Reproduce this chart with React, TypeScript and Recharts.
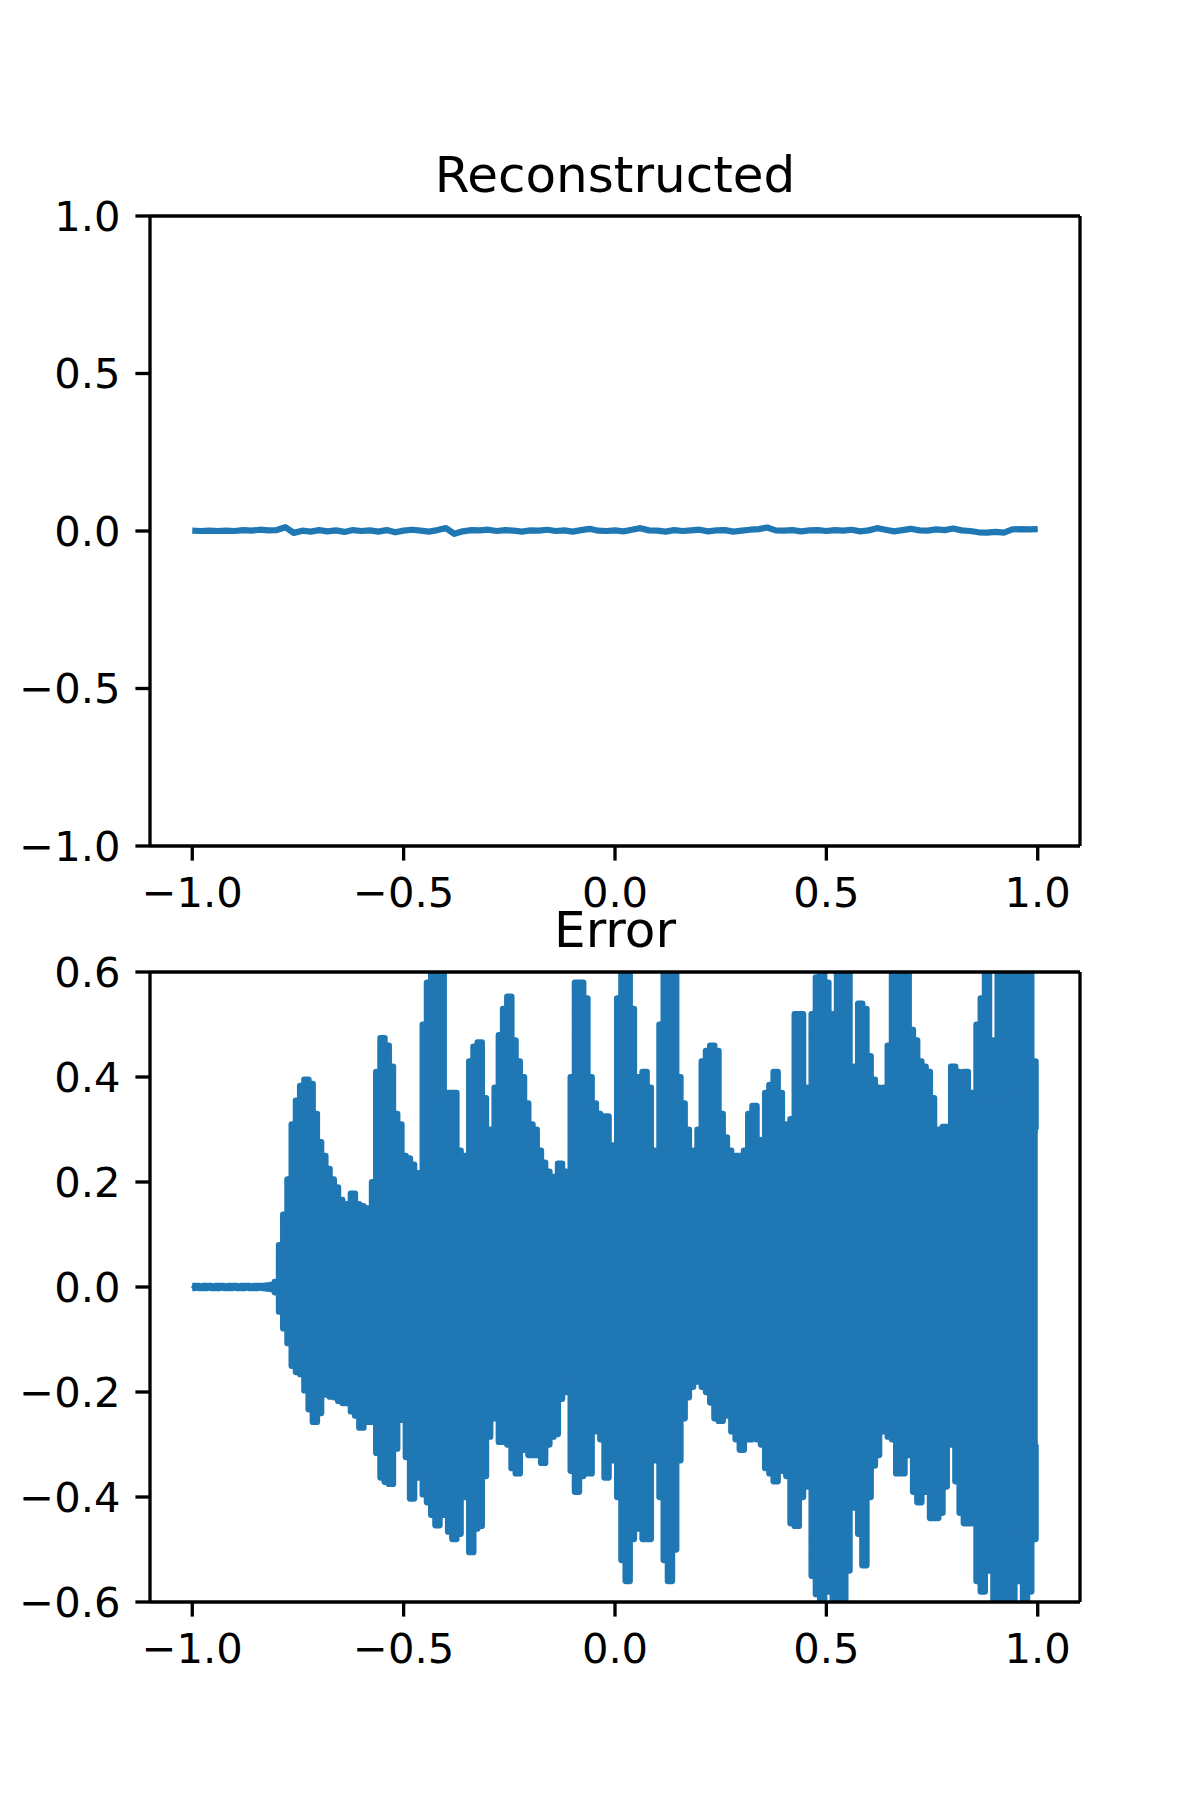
import { Area, ComposedChart, Line, ReferenceLine, XAxis, YAxis } from "recharts"

const BLUE = "#1f77b4"
const FONT = "DejaVu Sans"

const xTicks = [-1, -0.5, 0, 0.5, 1]
const reconTicks = [-1, -0.5, 0, 0.5, 1]
const errorTicks = [-0.6, -0.4, -0.2, 0, 0.2, 0.4, 0.6]
const titles = ["Reconstructed", "Error"]

// reconstructed signal, sampled every 0.02 from -1 to 1
const reconStart = -1
const reconStep = 0.02
const reconValues = [
  0.001, 0.0, 0.001, 0.0, 0.001, 0.0, 0.003, 0.001, 0.004, 0.002,
  0.003, 0.012, -0.006, 0.001, -0.002, 0.003, -0.001, 0.002, -0.003, 0.003,
  0.0, 0.002, -0.002, 0.003, -0.004, 0.001, 0.004, 0.001, -0.002, 0.003,
  0.009, -0.009, -0.001, 0.003, 0.002, 0.004, 0.0, 0.003, 0.001, -0.002,
  0.002, 0.001, 0.004, 0.0, 0.002, -0.002, 0.003, 0.007, 0.001, 0.0,
  0.002, -0.001, 0.004, 0.009, 0.002, 0.001, -0.002, 0.003, 0.0, 0.002,
  0.004, -0.001, 0.002, 0.003, -0.002, 0.001, 0.004, 0.006, 0.011, 0.002,
  0.001, 0.003, -0.001, 0.002, 0.003, 0.0, 0.003, 0.001, 0.004, -0.001,
  0.002, 0.009, 0.004, -0.001, 0.003, 0.007, 0.002, 0.001, 0.005, 0.003,
  0.008, 0.002, 0.0, -0.004, -0.005, -0.003, -0.005, 0.005, 0.006, 0.005,
  0.006,
]

// error signal envelope (upper / lower peaks), sampled every 0.01 from -1 to 1
const errStart = -1
const errStep = 0.01
const errUpper = [
  0.002, 0.002, 0.001, 0.002, 0.002, 0.001, 0.002, 0.002, 0.001, 0.002,
  0.002, 0.001, 0.002, 0.002, 0.001, 0.002, 0.002, 0.002, 0.003, 0.004,
  0.01, 0.08, 0.138, 0.205, 0.31, 0.355, 0.383, 0.395, 0.387, 0.33,
  0.276, 0.25, 0.225, 0.205, 0.19, 0.166, 0.15, 0.158, 0.178, 0.158,
  0.154, 0.15, 0.15, 0.2, 0.41, 0.474, 0.46, 0.42, 0.33, 0.31,
  0.25, 0.245, 0.233, 0.217, 0.18, 0.5, 0.58, 0.63, 0.65, 0.6,
  0.36, 0.37, 0.37, 0.26, 0.237, 0.25, 0.43, 0.458, 0.466, 0.36,
  0.3, 0.18, 0.38, 0.48, 0.53, 0.553, 0.47, 0.43, 0.4, 0.35,
  0.31, 0.3, 0.26, 0.237, 0.22, 0.21, 0.21, 0.235, 0.22, 0.2,
  0.4, 0.58, 0.58, 0.55, 0.4, 0.35, 0.33, 0.32, 0.325, 0.27,
  0.26, 0.55, 0.63, 0.63, 0.53, 0.38, 0.4, 0.41, 0.38, 0.26,
  0.23, 0.5, 0.6, 0.63, 0.63, 0.4, 0.35, 0.3, 0.245, 0.26,
  0.3, 0.43, 0.45, 0.46, 0.45, 0.33, 0.285, 0.26, 0.248, 0.25,
  0.25, 0.26, 0.33, 0.345, 0.28, 0.26, 0.37, 0.385, 0.41, 0.37,
  0.31, 0.3, 0.32, 0.52, 0.52, 0.38, 0.31, 0.52, 0.59, 0.63,
  0.58, 0.45, 0.52, 0.62, 0.63, 0.6, 0.35, 0.42, 0.54, 0.53,
  0.44, 0.395, 0.38, 0.31, 0.38, 0.46, 0.62, 0.63, 0.63, 0.6,
  0.49, 0.47, 0.43, 0.42, 0.41, 0.36, 0.285, 0.3, 0.305, 0.28,
  0.42, 0.41, 0.39, 0.41, 0.37, 0.36, 0.5, 0.55, 0.63, 0.47,
  0.36, 0.63, 0.63, 0.63, 0.63, 0.62, 0.38, 0.63, 0.62, 0.43,
  0.3,
]
const errLower = [
  -0.002, -0.001, -0.002, -0.002, -0.001, -0.002, -0.002, -0.001, -0.002, -0.002,
  -0.001, -0.002, -0.002, -0.001, -0.002, -0.002, -0.001, -0.002, -0.003, -0.004,
  -0.01, -0.047, -0.079, -0.107, -0.15, -0.162, -0.166, -0.197, -0.233, -0.257,
  -0.24, -0.205, -0.205, -0.209, -0.21, -0.217, -0.221, -0.205, -0.237, -0.245,
  -0.268, -0.253, -0.257, -0.245, -0.316, -0.363, -0.371, -0.375, -0.308, -0.253,
  -0.245, -0.324, -0.403, -0.33, -0.363, -0.395, -0.41, -0.434, -0.454, -0.434,
  -0.363, -0.466, -0.48, -0.47, -0.3, -0.4, -0.505, -0.46, -0.455, -0.36,
  -0.285, -0.2, -0.25, -0.295, -0.285, -0.3, -0.345, -0.355, -0.305, -0.31,
  -0.32, -0.32, -0.32, -0.335, -0.3, -0.285, -0.28, -0.213, -0.19, -0.2,
  -0.35, -0.39, -0.36, -0.35, -0.355, -0.275, -0.275, -0.29, -0.363, -0.33,
  -0.26, -0.4, -0.52, -0.56, -0.48, -0.36, -0.46, -0.48, -0.48, -0.33,
  -0.25, -0.4, -0.52, -0.56, -0.5, -0.33, -0.25, -0.21, -0.19, -0.175,
  -0.18, -0.19, -0.2, -0.22, -0.25, -0.255, -0.245, -0.23, -0.275, -0.29,
  -0.31, -0.27, -0.29, -0.285, -0.29, -0.3, -0.345, -0.355, -0.37, -0.35,
  -0.3, -0.36, -0.45, -0.455, -0.4, -0.31, -0.38, -0.55, -0.585, -0.62,
  -0.58, -0.5, -0.6, -0.63, -0.6, -0.54, -0.42, -0.37, -0.47, -0.53,
  -0.4, -0.34, -0.32, -0.27, -0.275, -0.285, -0.29, -0.355, -0.355, -0.315,
  -0.32, -0.39, -0.41, -0.37, -0.39, -0.44, -0.44, -0.43, -0.38, -0.27,
  -0.3, -0.37, -0.43, -0.45, -0.45, -0.4, -0.56, -0.58, -0.54, -0.5,
  -0.6, -0.63, -0.63, -0.62, -0.6, -0.56, -0.47, -0.63, -0.58, -0.48,
  -0.3,
]

const reconData = reconValues.map((y, i) => ({
  x: +(reconStart + i * reconStep).toFixed(2),
  y,
}))
const errorData = errUpper.map((hi, i) => ({
  x: +(errStart + i * errStep).toFixed(2),
  hi,
  lo: errLower[i],
}))

const X_DOMAIN = [-1.1, 1.1]

const fmt = (v: number) =>
  v < 0 ? "\u2212" + Math.abs(v).toFixed(1) : v.toFixed(1)

const SPINE = 3.33
const tickStyle = { fill: "#000", fontSize: 41.67, fontFamily: FONT }
const spine = { stroke: "#000", strokeWidth: SPINE }

// bottom/left axes with ticks, top/right spines as reference lines on the domain edges
function frame(yDomain: number[], yTicks: number[]) {
  return [
    <XAxis
      key="x"
      type="number"
      dataKey="x"
      domain={X_DOMAIN}
      ticks={xTicks}
      interval={0}
      allowDataOverflow
      tickFormatter={fmt}
      tick={tickStyle}
      tickSize={14.6}
      tickMargin={17}
      tickLine={spine}
      axisLine={spine}
      height={60}
    />,
    <YAxis
      key="y"
      type="number"
      domain={yDomain}
      ticks={yTicks}
      interval={0}
      allowDataOverflow
      tickFormatter={fmt}
      tick={tickStyle}
      tickSize={14.6}
      tickMargin={15}
      tickLine={spine}
      axisLine={spine}
      width={140}
    />,
  ]
}

function spines(yDomain: number[]) {
  return [
    <ReferenceLine key="top" y={yDomain[1]} stroke="#000" strokeWidth={SPINE} ifOverflow="visible" />,
    <ReferenceLine key="right" x={X_DOMAIN[1]} stroke="#000" strokeWidth={SPINE} ifOverflow="visible" />,
  ]
}

export default function App() {
  return (
    <div style={{ position: "absolute", left: 0, top: 0, width: 1200, height: 1800, background: "#fff" }}>
      <div style={{ position: "absolute", left: 0, top: 0 }}>
        <ComposedChart
          width={1200}
          height={930}
          data={reconData}
          margin={{ top: 216, right: 120, bottom: 24, left: 10 }}
        >
          {frame([-1, 1], reconTicks)}
          <Line
            type="linear"
            dataKey="y"
            stroke={BLUE}
            strokeWidth={6.25}
            strokeLinejoin="round"
            dot={false}
            activeDot={false}
            isAnimationActive={false}
          />
          {spines([-1, 1])}
        </ComposedChart>
      </div>
      <div style={{ position: "absolute", left: 0, top: 880 }}>
        <ComposedChart
          width={1200}
          height={920}
          data={errorData}
          margin={{ top: 92, right: 120, bottom: 138, left: 10 }}
        >
          {frame([-0.6, 0.6], errorTicks)}
          <Area
            type="step"
            dataKey={(d: any) => [d.lo, d.hi]}
            stroke={BLUE}
            strokeWidth={6.25}
            strokeLinejoin="round"
            fill={BLUE}
            fillOpacity={1}
            dot={false}
            activeDot={false}
            isAnimationActive={false}
          />
          {spines([-0.6, 0.6])}
        </ComposedChart>
      </div>
      <svg
        width={1200}
        height={1800}
        style={{ position: "absolute", left: 0, top: 0, pointerEvents: "none" }}
      >
        <text x={615} y={192} textAnchor="middle" fontFamily={FONT} fontSize={50} fill="#000">
          {titles[0]}
        </text>
        <text x={615} y={947} textAnchor="middle" fontFamily={FONT} fontSize={50} fill="#000">
          {titles[1]}
        </text>
      </svg>
    </div>
  )
}
